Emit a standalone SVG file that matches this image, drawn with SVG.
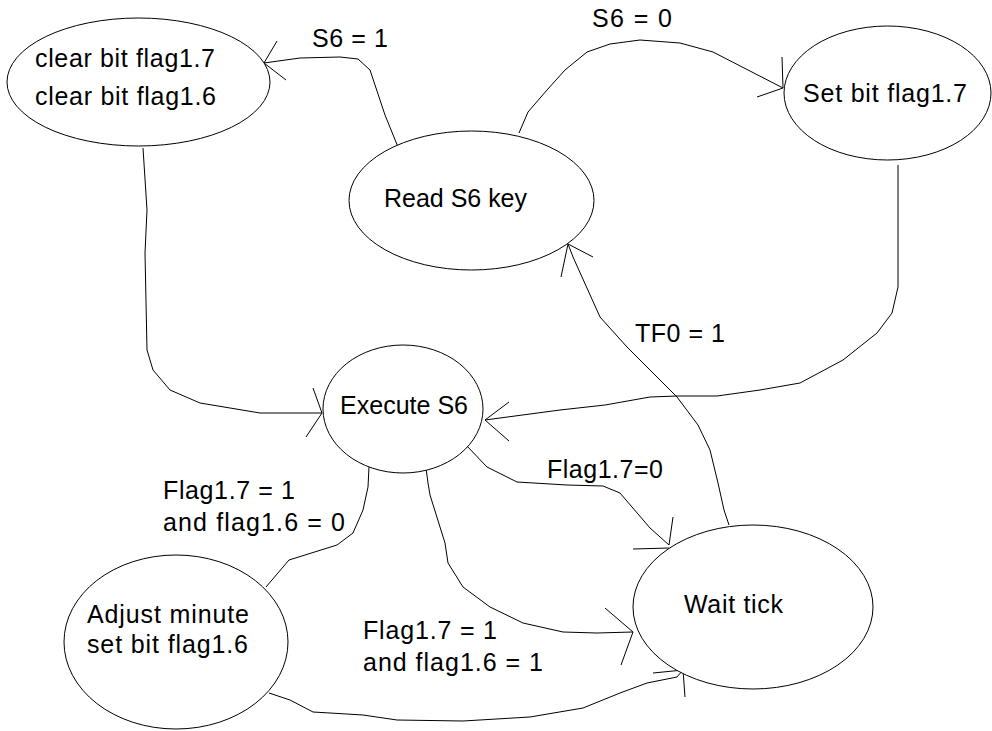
<svg xmlns="http://www.w3.org/2000/svg" width="992" height="731" viewBox="0 0 992 731">
<style>
  .shape { fill: #ffffff; stroke: #000000; stroke-width: 1; }
  .edge { fill: none; stroke: #000000; stroke-width: 1; stroke-linejoin: round; }
  text { font-family: "Liberation Sans", Arial, sans-serif; font-size: 25px; fill: #000000; }
</style>
<rect width="992" height="731" fill="#ffffff"/>

<g id="connectors">
  <!-- Read S6 key -> clear bits (S6 = 1) -->
  <path class="edge" d="M398,147 L385,115 L370,70 L358,59 L340,57 L300,58 L264,63"/>
  <path class="edge" d="M277,41 L264,63 L286,80"/>
  <!-- Read S6 key -> Set bit flag1.7 (S6 = 0) -->
  <path class="edge" d="M519,133 L528,112 L547,90 L565,70 L587,52 L610,44 L640,40 L680,43 L713,52 L783,88"/>
  <path class="edge" d="M782,57 L783,88 L757,97"/>
  <!-- Set bit flag1.7 -> Execute S6 -->
  <path class="edge" d="M898,165 L898,287 L892,313 L877,333 L843,360 L800,383 L760,390 L717,396 L677,396 L650,397 L605,405 L560,410 L485,420"/>
  <path class="edge" d="M509,402 L485,420 L509,441"/>
  <!-- clear bits -> Execute S6 -->
  <path class="edge" d="M143,148 L147,210 L145,253 L147,350 L153,370 L170,390 L200,403 L260,413 L322,413"/>
  <path class="edge" d="M313,388 L322,413 L306,437"/>
  <!-- Wait tick -> Read S6 key (TF0 = 1) -->
  <path class="edge" d="M729,525 L724,510 L718,483 L710,450 L698,425 L677,397 L627,347 L600,317 L573,257 L568,244"/>
  <path class="edge" d="M561,277 L568,244 L593,257"/>
  <!-- Execute S6 -> Wait tick (Flag1.7=0) -->
  <path class="edge" d="M466,445 L487,467 L517,482 L567,485 L603,486 L620,493 L650,528 L669,545"/>
  <path class="edge" d="M673,517 L669,545 M633,549 L669,548"/>
  <!-- Execute S6 -> Adjust minute -->
  <path class="edge" d="M369,467 L368,487 L363,510 L353,533 L337,545 L289,560 L266,587"/>
  <!-- Execute S6 -> Wait tick (flag1.6 = 1) -->
  <path class="edge" d="M426,468 L428,483 L430,495 L440,527 L445,543 L448,563 L463,587 L490,607 L523,623 L563,632 L597,633 L633,632"/>
  <path class="edge" d="M605,608 L633,632 L621,665"/>
  <!-- Adjust minute -> Wait tick -->
  <path class="edge" d="M269,693 L290,700 L313,712 L330,713 L363,715 L397,720 L463,721 L530,717 L583,708 L620,693 L647,683 L677,677 L683,670"/>
  <path class="edge" d="M653,673 L683,670 L685,697"/>
</g>

<g id="node-clear">
  <ellipse class="shape" cx="138.5" cy="82" rx="131.5" ry="64"/>
  <text x="35" y="67" textLength="180" lengthAdjust="spacing">clear bit flag1.7</text>
  <text x="35" y="105" textLength="181" lengthAdjust="spacing">clear bit flag1.6</text>
</g>

<g id="node-read">
  <ellipse class="shape" cx="471.5" cy="200.5" rx="122.5" ry="69.5"/>
  <text x="384" y="207" textLength="143" lengthAdjust="spacing">Read S6 key</text>
</g>

<g id="node-set">
  <ellipse class="shape" cx="887.5" cy="93" rx="103.5" ry="67"/>
  <text x="803" y="102" textLength="164" lengthAdjust="spacing">Set bit flag1.7</text>
</g>

<g id="node-execute">
  <ellipse class="shape" cx="403" cy="409" rx="80" ry="64"/>
  <text x="340" y="414" textLength="128" lengthAdjust="spacing">Execute S6</text>
</g>

<g id="node-wait">
  <ellipse class="shape" cx="753" cy="607" rx="120" ry="82"/>
  <text x="684" y="613" textLength="99" lengthAdjust="spacing">Wait tick</text>
</g>

<g id="node-adjust">
  <ellipse class="shape" cx="176" cy="642" rx="112" ry="87"/>
  <text x="87" y="623" textLength="162" lengthAdjust="spacing">Adjust minute</text>
  <text x="87" y="653" textLength="161" lengthAdjust="spacing">set bit flag1.6</text>
</g>

<g id="edge-labels">
  <text x="312" y="47" textLength="76" lengthAdjust="spacing">S6 = 1</text>
  <text x="592" y="27" textLength="80" lengthAdjust="spacing">S6 = 0</text>
  <text x="635" y="342" textLength="90" lengthAdjust="spacing">TF0 = 1</text>
  <text x="547" y="478" textLength="116" lengthAdjust="spacing">Flag1.7=0</text>
  <text x="163" y="499" textLength="132" lengthAdjust="spacing">Flag1.7 = 1</text>
  <text x="163" y="531" textLength="182" lengthAdjust="spacing">and flag1.6 = 0</text>
  <text x="363" y="639" textLength="134" lengthAdjust="spacing">Flag1.7 = 1</text>
  <text x="363" y="671" textLength="180" lengthAdjust="spacing">and flag1.6 = 1</text>
</g>
</svg>
